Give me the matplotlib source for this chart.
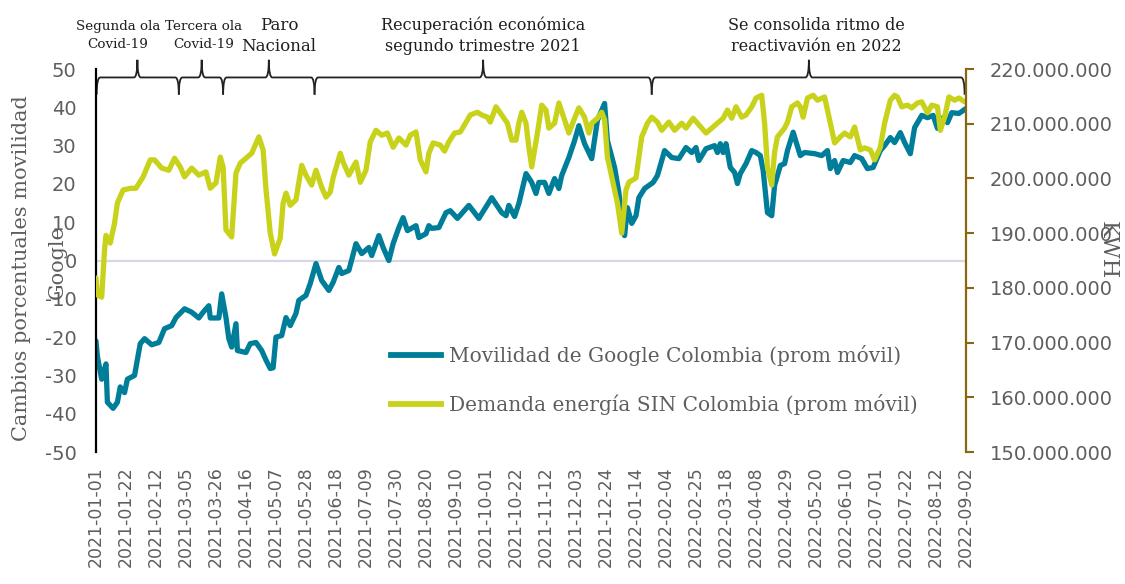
import numpy as np
import pandas as pd
import matplotlib
matplotlib.use('Agg')
import matplotlib.pyplot as plt
import matplotlib.dates as mdates
from matplotlib.path import Path
from matplotlib.patches import PathPatch
from matplotlib.lines import Line2D

START = pd.Timestamp('2021-01-01')
END = pd.Timestamp('2022-09-02')

# movilidad Google (dias desde 2021-01-01, cambio %)
mob_day = [0, 1, 4, 7, 8, 12, 15, 17, 20, 22, 27, 31, 34, 39, 44, 48, 53, 56, 62, 67,
           72, 75, 79, 80, 86, 88, 91, 93, 95, 98, 99, 105, 108, 112, 116, 119, 122, 124, 126, 130,
           133, 136, 140, 142, 147, 150, 154, 158, 163, 166, 170, 172, 177, 182, 186, 191, 193, 198, 201, 205,
           208, 212, 215, 218, 224, 226, 231, 233, 235, 240, 245, 248, 253, 261, 268, 277, 284, 287, 289, 293,
           296, 301, 305, 308, 310, 314, 317, 321, 324, 326, 331, 335, 338, 342, 347, 351, 356, 358, 363, 366,
           368, 370, 372, 375, 378, 380, 384, 390, 393, 398, 403, 408, 413, 417, 420, 422, 427, 433, 435, 437,
           439, 441, 444, 447, 449, 451, 455, 459, 462, 465, 467, 470, 473, 475, 479, 482, 484, 488, 490, 493,
           496, 503, 508, 512, 514, 517, 519, 523, 528, 531, 536, 540, 544, 549, 552, 556, 559, 563, 566, 570,
           573, 578, 582, 586, 589, 593, 596, 599, 604, 609]
mob_val = [-21, -25, -31, -27, -37, -38.6, -37, -33, -34.5, -31, -30, -21.7, -20.4, -22, -21.4, -17.8, -17, -14.9, -12.6, -13.5,
           -15, -13.5, -11.8, -15, -15, -8.7, -14.9, -20.4, -22.6, -16.5, -23.5, -24, -21.7, -21.4, -23.5, -26, -28.2, -28, -20, -19.6,
           -14.9, -17, -13.8, -10.4, -9.1, -6, -0.8, -5.2, -7.8, -5.7, -1.8, -3.4, -2.6, 4.4, 1.8, 3.4, 1.3, 6.5, 3.4, 0,
           4.4, 8.6, 11.2, 7.8, 9.1, 6, 7, 9.1, 8.4, 8.6, 12.5, 13, 11, 14.4, 11, 16.4, 12.5, 11.7, 14.4, 11.5,
           14.9, 22.7, 20.4, 17.5, 20.4, 20.4, 17.5, 21.4, 18.8, 22.2, 26.9, 31.3, 35.2, 30.5, 26.6, 36.6, 41, 31.3, 24.3, 17.8,
           11.2, 6.5, 13.8, 9.7, 11.7, 16.4, 18.8, 20.4, 22.2, 28.7, 26.9, 26.6, 29.5, 28.2, 29.5, 26.1, 29.2, 30, 28.2, 30.5,
           28.2, 30.5, 24.3, 23, 20.1, 22.7, 25.3, 28.7, 28.2, 27.4, 23.5, 12.5, 11.7, 19.6, 24.8, 25.3, 28.7, 33.5, 31, 27.4,
           28.2, 27.9, 27.4, 28.7, 24, 26.1, 23, 26.1, 25.6, 27.4, 26.6, 24, 24.3, 28.7, 30, 32.1, 30.8, 33.4, 30.8, 27.9,
           34.7, 37.9, 37.3, 37.9, 34.5, 37.3, 36, 38.6, 38.4, 39.7]

# demanda energia SIN (dias desde 2021-01-01, millones de kWh)
en_day = [0, 1, 4, 6, 7, 10, 13, 15, 19, 24, 28, 33, 38, 41, 46, 51, 55, 59, 62, 67,
          72, 77, 80, 84, 87, 89, 91, 95, 98, 101, 105, 109, 114, 117, 119, 122, 125, 129, 131, 133,
          136, 140, 144, 147, 151, 154, 158, 161, 164, 166, 171, 173, 177, 182, 185, 189, 192, 196, 200, 204,
          208, 212, 217, 220, 224, 227, 231, 233, 236, 241, 244, 247, 251, 255, 258, 262, 267, 270, 274, 276,
          280, 284, 288, 291, 294, 296, 298, 301, 303, 305, 309, 312, 315, 317, 321, 324, 328, 331, 335, 338,
          342, 345, 347, 351, 354, 356, 358, 361, 365, 368, 371, 373, 378, 380, 382, 386, 389, 393, 396, 401,
          405, 410, 413, 418, 422, 427, 431, 435, 439, 442, 445, 448, 452, 455, 459, 462, 466, 468, 470, 473,
          475, 477, 482, 484, 487, 491, 493, 495, 498, 502, 505, 510, 514, 517, 521, 524, 528, 531, 535, 538,
          542, 545, 549, 552, 556, 559, 561, 564, 568, 571, 575, 578, 582, 585, 589, 591, 594, 597, 601, 604,
          608]
en_val = [181.8, 178.7, 178.3, 186.9, 189.6, 188.2, 191.8, 195.5, 197.9, 198.2, 198.2, 200.3, 203.4, 203.4, 201.9, 201.5, 203.7, 202.1, 200.3, 201.9,
          200.6, 201.2, 198.2, 199.2, 203.9, 202.1, 190.6, 189.3, 201.0, 202.8, 203.7, 204.6, 207.6, 205.2, 198.0, 190.0, 186.2, 189.1, 195.5, 197.3,
          195.1, 196.1, 202.4, 200.6, 198.8, 201.5, 198.4, 196.6, 197.5, 200.1, 204.6, 203.0, 200.6, 203.0, 199.3, 201.5, 206.7, 208.8, 207.9, 208.3,
          205.7, 207.4, 206.1, 207.9, 208.5, 203.4, 201.2, 204.6, 206.5, 206.1, 205.0, 206.7, 208.3, 208.5, 209.8, 211.6, 212.1, 211.6, 211.2, 210.3,
          213.1, 211.6, 210.1, 207.0, 207.0, 210.1, 212.1, 210.1, 205.7, 202.1, 208.3, 213.4, 212.5, 209.2, 210.1, 213.8, 210.7, 208.3, 211.0, 212.9,
          211.2, 208.3, 210.1, 211.0, 212.1, 210.7, 203.9, 200.3, 195.5, 190.0, 197.9, 199.3, 200.1, 203.9, 207.6, 210.1, 211.2, 210.3, 208.8, 210.3,
          208.8, 210.1, 209.2, 211.0, 209.8, 208.3, 209.2, 210.1, 211.0, 212.5, 211.0, 213.1, 211.2, 211.6, 213.1, 214.7, 215.2, 210.1, 202.1, 198.8,
          204.8, 207.6, 209.2, 210.3, 213.1, 213.8, 213.1, 211.2, 214.7, 215.2, 214.3, 214.9, 210.1, 206.5, 207.6, 208.3, 207.6, 209.4, 205.2, 205.6,
          205.2, 203.4, 205.7, 210.1, 214.3, 215.2, 214.9, 213.1, 213.4, 212.9, 213.8, 214.0, 212.0, 213.4, 213.1, 208.8, 211.2, 214.9, 214.3, 214.7,
          214.0]

# llaves de anotacion (dias desde 2021-01-01)
brace_start = [0.5, 58, 89, 153, 389]
brace_tip = [29, 74, 121, 271, 499]
brace_end = [58, 89, 153, 389, 608]
text_day = [15.5, 75.5, 128, 271, 504]
brace_text = ['Segunda ola\nCovid-19', 'Tercera ola\nCovid-19', 'Paro\nNacional',
              'Recuperación económica\nsegundo trimestre 2021',
              'Se consolida ritmo de\nreactivavión en 2022']
brace_size = [9.7, 9.7, 12, 11.5, 11.5]

left_ticks = [-50, -40, -30, -20, -10, 0, 10, 20, 30, 40, 50]
right_ticks = [150e6, 160e6, 170e6, 180e6, 190e6, 200e6, 210e6, 220e6]

TEAL = '#007E99'
LIME = '#C9D21B'
GREY = '#5e5e5e'
BROWN = '#8C6510'
SERIF = 'DejaVu Serif'

mob_dates = START + pd.to_timedelta(mob_day, unit='D')
en_dates = START + pd.to_timedelta(en_day, unit='D')
en_kwh = np.array(en_val) * 1e6

fig = plt.figure(figsize=(11.25, 5.84), dpi=100)
ax = fig.add_axes([0.0853, 0.226, 0.7734, 0.6558])
ax2 = ax.twinx()

ax.axhline(0, color='#D3DAE6', lw=1.6, zorder=1)
ax.plot(mob_dates, mob_val, color=TEAL, lw=3.8, solid_joinstyle='round', solid_capstyle='round')
ax2.plot(en_dates, en_kwh, color=LIME, lw=3.8, solid_joinstyle='round', solid_capstyle='round')

ax.set_xlim(START, END)
ax.set_ylim(-50, 50)
ax2.set_ylim(150e6, 220e6)

xt = pd.date_range(START, END, freq='21D')
ax.set_xticks(xt)
ax.set_xticklabels([d.strftime('%Y-%m-%d') for d in xt], rotation=90, fontsize=12.5, color=GREY)
ax.tick_params(axis='x', length=0, pad=10)

ax.set_yticks(left_ticks)
ax.set_yticklabels([str(v) for v in left_ticks], fontsize=14, color=GREY)
ax.tick_params(axis='y', length=0, pad=14)

ax2.set_yticks(right_ticks)
ax2.set_yticklabels([f'{int(v):,}'.replace(',', '.') for v in right_ticks], fontsize=14, color=GREY)
ax2.tick_params(axis='y', direction='out', length=6, width=1.5, color=BROWN, pad=11)

for s in ['top', 'bottom', 'right']:
    ax.spines[s].set_visible(False)
ax.spines['left'].set_color('black')
ax.spines['left'].set_linewidth(1.6)
for s in ['top', 'bottom', 'left']:
    ax2.spines[s].set_visible(False)
ax2.spines['right'].set_color(BROWN)
ax2.spines['right'].set_linewidth(1.6)

# llaves superiores
y_low, y_mid, y_top = 43.3, 47.8, 52.4
w = 2.5
for a, m, b in zip(brace_start, brace_tip, brace_end):
    xa, xm, xb = [mdates.date2num(START + pd.Timedelta(days=d)) for d in (a, m, b)]
    verts = [(xa, y_low), (xa, y_mid), (xa + w, y_mid),
             (xm - w, y_mid), (xm, y_mid), (xm, y_top),
             (xm, y_mid), (xm + w, y_mid),
             (xb - w, y_mid), (xb, y_mid), (xb, y_low)]
    codes = [Path.MOVETO, Path.CURVE3, Path.CURVE3,
             Path.LINETO, Path.CURVE3, Path.CURVE3,
             Path.CURVE3, Path.CURVE3,
             Path.LINETO, Path.CURVE3, Path.CURVE3]
    ax.add_patch(PathPatch(Path(verts, codes), fill=False, lw=1.3, color='#222222', clip_on=False))

for d, txt, fs in zip(text_day, brace_text, brace_size):
    small = fs < 10
    ax.text(START + pd.Timedelta(days=d), 54.8 if small else 53.6, txt, ha='center', va='bottom',
            fontsize=fs, family=SERIF, color='#1e1e1e',
            linespacing=1.45 if small else 1.3, clip_on=False)

handles = [Line2D([], [], color=TEAL, lw=4.2), Line2D([], [], color=LIME, lw=4.2)]
labels = ['Movilidad de Google Colombia (prom móvil)', 'Demanda energía SIN Colombia (prom móvil)']
ax2.legend(handles, labels, loc='upper left', bbox_to_anchor=(0.318, 0.327), frameon=False,
           handlelength=2.5, handletextpad=0.4, labelspacing=1.4, labelcolor=GREY,
           prop={'family': SERIF, 'size': 14.5})

fig.text(22 / 1125, 1 - 268 / 584, 'Cambios porcentuales movilidad', rotation=90,
         ha='center', va='center', fontsize=15, family=SERIF, color=GREY)
fig.text(57 / 1125, 1 - 262 / 584, 'Google', rotation=90,
         ha='center', va='center', fontsize=15, family=SERIF, color=GREY)
fig.text(1108 / 1125, 1 - 250 / 584, 'KWH', rotation=270,
         ha='center', va='center', fontsize=16, family=SERIF, color=GREY)

fig.savefig('out.png', dpi=100)
